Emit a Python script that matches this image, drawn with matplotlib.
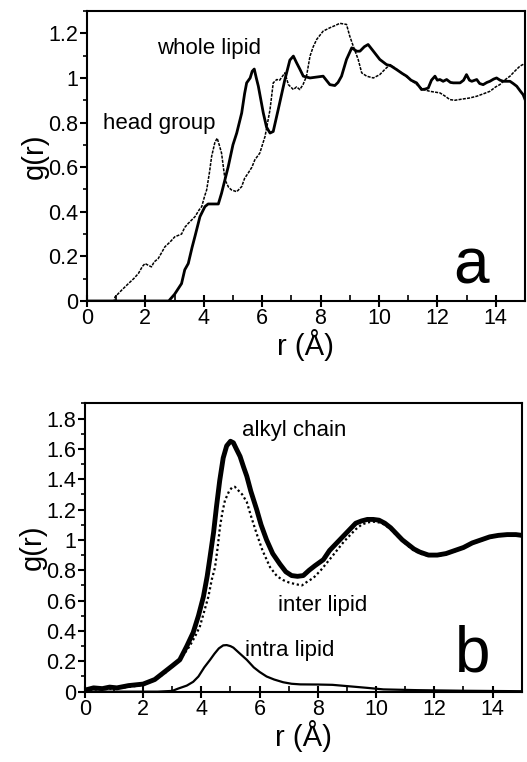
import numpy as np
import matplotlib
matplotlib.use('Agg')
import matplotlib.pyplot as plt
from matplotlib.ticker import MultipleLocator, FuncFormatter

plt.rcParams['font.family'] = ['Liberation Sans', 'DejaVu Sans']

# panel a: whole lipid (solid) and head group (dashed)
whole_r = [0, 2.8, 3.0, 3.24, 3.35, 3.47, 3.6, 3.7, 3.87, 4.04, 4.15, 4.5, 4.61, 4.84, 5.0,
           5.13, 5.3, 5.4, 5.47, 5.59, 5.66, 5.73, 5.8, 5.87, 6.04, 6.15, 6.27, 6.38, 6.55,
           6.78, 6.95, 7.07, 7.18, 7.29, 7.41, 7.64, 8.09, 8.32, 8.49, 8.6, 8.72, 8.89, 9.07,
           9.24, 9.35, 9.5, 9.63, 9.81, 10.03, 10.26, 10.4, 10.6, 10.8, 10.95, 11.1, 11.29,
           11.46, 11.58, 11.69, 11.8, 11.92, 12.0, 12.09, 12.2, 12.32, 12.45, 12.55, 12.78,
           12.9, 13.0, 13.1, 13.18, 13.35, 13.45, 13.57, 13.7, 13.8, 13.93, 14.03, 14.15,
           14.26, 14.49, 14.6, 14.72, 14.85, 14.94, 15.0]
whole_g = [0, 0, 0.03, 0.078, 0.14, 0.168, 0.24, 0.29, 0.378, 0.423, 0.435, 0.435, 0.483,
           0.603, 0.70, 0.753, 0.843, 0.93, 0.978, 1.0, 1.03, 1.04, 1.0, 0.963, 0.843, 0.78,
           0.753, 0.76, 0.858, 0.993, 1.08, 1.098, 1.068, 1.04, 1.008, 1.0, 1.008, 0.97, 0.966,
           0.98, 1.008, 1.083, 1.135, 1.12, 1.12, 1.14, 1.15, 1.12, 1.083, 1.06, 1.055, 1.038,
           1.02, 1.008, 0.99, 0.978, 0.948, 0.95, 0.955, 0.99, 1.008, 0.99, 0.993, 0.985,
           0.993, 0.98, 0.978, 0.978, 0.99, 1.015, 0.99, 0.985, 0.993, 0.975, 0.97, 0.98,
           0.985, 0.995, 1.0, 0.99, 0.985, 0.985, 0.975, 0.963, 0.94, 0.925, 0.905]

head_r = [0, 0.93, 0.96, 1.2, 1.42, 1.6, 1.76, 1.9, 1.99, 2.1, 2.21, 2.3, 2.44, 2.55, 2.67,
          2.85, 3.01, 3.24, 3.35, 3.47, 3.6, 3.7, 3.85, 3.93, 4.03, 4.1, 4.2, 4.27, 4.38, 4.46,
          4.53, 4.61, 4.73, 4.85, 4.95, 5.13, 5.3, 5.4, 5.52, 5.65, 5.75, 5.92, 6.1, 6.27,
          6.38, 6.5, 6.6, 6.78, 6.9, 7.07, 7.18, 7.29, 7.4, 7.52, 7.64, 7.75, 7.87, 8.09,
          8.32, 8.5, 8.66, 8.89, 9.0, 9.12, 9.29, 9.41, 9.58, 9.81, 10.03, 10.2, 10.38, 10.6,
          10.8, 10.95, 11.1, 11.3, 11.52, 11.75, 12.09, 12.25, 12.43, 12.6, 12.89, 13.1,
          13.35, 13.6, 13.8, 14.0, 14.14, 14.3, 14.49, 14.65, 14.83, 15.0]
head_g = [0, 0, 0.018, 0.05, 0.078, 0.1, 0.123, 0.155, 0.168, 0.16, 0.153, 0.175, 0.19,
          0.215, 0.243, 0.265, 0.288, 0.3, 0.33, 0.348, 0.365, 0.378, 0.41, 0.423, 0.47,
          0.498, 0.58, 0.648, 0.71, 0.73, 0.70, 0.663, 0.543, 0.51, 0.498, 0.49, 0.513, 0.55,
          0.573, 0.6, 0.633, 0.663, 0.738, 0.858, 0.978, 0.993, 0.99, 1.023, 0.97, 0.948,
          0.96, 0.948, 0.97, 1.008, 1.098, 1.14, 1.173, 1.21, 1.225, 1.235, 1.245, 1.24,
          1.188, 1.143, 1.083, 1.023, 1.008, 1.0, 1.015, 1.038, 1.06, 1.04, 1.02, 1.005, 0.99,
          0.97, 0.948, 0.94, 0.933, 0.92, 0.903, 0.9, 0.906, 0.91, 0.918, 0.93, 0.94, 0.96,
          0.97, 0.99, 1.008, 1.03, 1.053, 1.065]

# panel b: alkyl chain (thick), inter lipid (dotted), intra lipid (thin)
alkyl_r = [0.0, 0.3, 0.6, 0.85, 1.1, 1.5, 2.0, 2.4, 2.8, 3.0, 3.26, 3.5, 3.72, 3.9, 4.07,
           4.2, 4.3, 4.42, 4.52, 4.63, 4.75, 4.87, 5.0, 5.1, 5.2, 5.33, 5.45, 5.56, 5.7, 5.9,
           6.05, 6.24, 6.45, 6.7, 6.9, 7.1, 7.3, 7.5, 7.7, 7.9, 8.19, 8.4, 8.65, 8.9, 9.1,
           9.3, 9.5, 9.7, 9.9, 10.1, 10.3, 10.5, 10.7, 10.9, 11.1, 11.3, 11.5, 11.8, 12.1,
           12.4, 12.7, 13.0, 13.3, 13.6, 13.9, 14.2, 14.5, 14.8, 15.0]
alkyl_g = [0.01, 0.025, 0.02, 0.03, 0.025, 0.04, 0.05, 0.08, 0.14, 0.17, 0.21, 0.3, 0.39,
           0.5, 0.625, 0.76, 0.89, 1.05, 1.22, 1.39, 1.54, 1.62, 1.65, 1.64, 1.6, 1.55, 1.48,
           1.42, 1.32, 1.2, 1.1, 1.0, 0.91, 0.84, 0.79, 0.765, 0.76, 0.765, 0.8, 0.83, 0.87,
           0.93, 0.98, 1.03, 1.07, 1.11, 1.125, 1.135, 1.135, 1.13, 1.11, 1.08, 1.04, 1.0,
           0.97, 0.94, 0.92, 0.9, 0.9, 0.91, 0.93, 0.95, 0.98, 1.0, 1.02, 1.03, 1.035, 1.035,
           1.03]

inter_r = [0.0, 0.5, 1.0, 1.66, 2.0, 2.4, 2.8, 3.0, 3.3, 3.6, 3.8, 3.95, 4.1, 4.24, 4.36,
           4.47, 4.56, 4.64, 4.72, 4.81, 4.95, 5.05, 5.15, 5.25, 5.4, 5.56, 5.7, 5.9, 6.1,
           6.36, 6.6, 6.81, 7.0, 7.2, 7.45, 7.6, 7.85, 8.1, 8.4, 8.65, 8.9, 9.1, 9.3, 9.5,
           9.7, 9.9, 10.1, 10.3, 10.5, 10.7, 10.9, 11.1, 11.3, 11.5, 11.8, 12.1, 12.4, 12.7,
           13.0, 13.3, 13.6, 13.9, 14.2, 14.5, 14.8, 15.0]
inter_g = [0.01, 0.015, 0.02, 0.035, 0.045, 0.075, 0.13, 0.165, 0.22, 0.3, 0.37, 0.43,
           0.53, 0.625, 0.74, 0.82, 0.95, 1.086, 1.18, 1.26, 1.32, 1.345, 1.35, 1.33, 1.3,
           1.25, 1.16, 1.04, 0.93, 0.82, 0.76, 0.735, 0.72, 0.71, 0.70, 0.72, 0.75, 0.8, 0.87,
           0.93, 0.99, 1.03, 1.07, 1.1, 1.115, 1.12, 1.115, 1.10, 1.07, 1.03, 0.995, 0.96,
           0.93, 0.91, 0.895, 0.895, 0.905, 0.925, 0.945, 0.975, 0.995, 1.015, 1.025, 1.03,
           1.03, 1.025]

intra_r = [0, 2.5, 3.0, 3.2, 3.5, 3.72, 3.9, 4.1, 4.3, 4.45, 4.6, 4.75, 4.87, 5.0, 5.1,
           5.3, 5.56, 5.8, 6.0, 6.24, 6.5, 6.81, 7.1, 7.4, 8.0, 8.5, 9.1, 9.7, 10.25, 11.4,
           13.0, 15.0]
intra_g = [0, 0.0, 0.005, 0.02, 0.04, 0.065, 0.1, 0.16, 0.21, 0.25, 0.285, 0.305, 0.307,
           0.3, 0.29, 0.255, 0.21, 0.16, 0.13, 0.1, 0.08, 0.062, 0.052, 0.048, 0.047, 0.045,
           0.035, 0.025, 0.015, 0.01, 0.006, 0.003]

fig = plt.figure(figsize=(5.27, 7.62), dpi=100)
ax1 = fig.add_axes([0.165, 0.605, 0.831, 0.3805])
ax2 = fig.add_axes([0.161, 0.0923, 0.829, 0.3784])


def fmt(v, pos):
    s = '%.1f' % v
    return s[:-2] if s.endswith('.0') else s


def style_axes(ax, ymax):
    ax.set_xlim(0, 15)
    ax.set_ylim(0, ymax)
    ax.xaxis.set_major_locator(MultipleLocator(2))
    ax.xaxis.set_minor_locator(MultipleLocator(1))
    ax.yaxis.set_major_locator(MultipleLocator(0.2))
    ax.yaxis.set_minor_locator(MultipleLocator(0.1))
    ax.yaxis.set_major_formatter(FuncFormatter(fmt))
    ax.tick_params(axis='x', which='major', direction='inout', length=8, width=1.5,
                   labelsize=15.5, pad=1)
    ax.tick_params(axis='x', which='minor', direction='in', length=4, width=1.2)
    ax.tick_params(axis='y', which='major', direction='out', length=5, width=1.5,
                   labelsize=15.5, pad=1)
    ax.tick_params(axis='y', which='minor', direction='out', length=3, width=1.2)
    for sp in ax.spines.values():
        sp.set_linewidth(1.5)
    ax.set_xlabel('r (Å)', fontsize=21, labelpad=0)
    ax.set_ylabel('g(r)', fontsize=21, labelpad=0)


ax1.plot(head_r, head_g, color='black', lw=1.1, ls=(0, (2, 0.8)))
ax1.plot(whole_r, whole_g, color='black', lw=2)
style_axes(ax1, 1.3)
ax1.text(2.4, 1.13, 'whole lipid', fontsize=16, va='center')
ax1.text(0.55, 0.795, 'head group', fontsize=16, va='center')
ax1.text(13.15, 0.08, 'a', fontsize=46, ha='center', va='baseline')

ax2.plot(alkyl_r, alkyl_g, color='black', lw=3.5)
ax2.plot(inter_r, inter_g, color='black', lw=1.6, ls=(0, (1, 1.2)))
ax2.plot(intra_r, intra_g, color='black', lw=1.6)
style_axes(ax2, 1.9)
ax2.text(5.4, 1.72, 'alkyl chain', fontsize=16, va='center')
ax2.text(6.63, 0.57, 'inter lipid', fontsize=16, va='center')
ax2.text(5.5, 0.27, 'intra lipid', fontsize=16, va='center')
ax2.text(13.3, 0.13, 'b', fontsize=46, ha='center', va='baseline')

fig.savefig('out.png', dpi=100)
